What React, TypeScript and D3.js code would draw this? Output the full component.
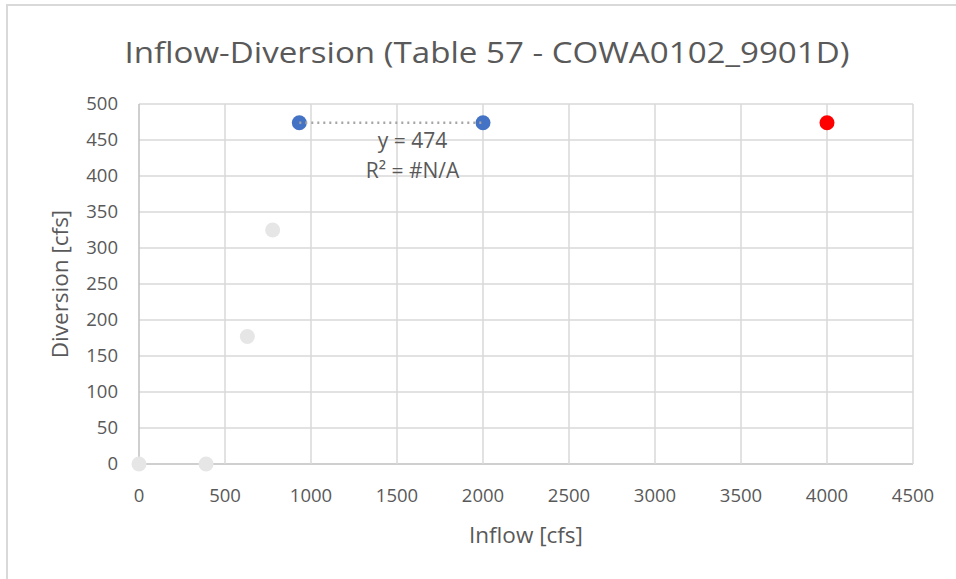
import * as d3 from "d3";
import React, { useEffect, useRef } from "react";

const title = "Inflow-Diversion (Table 57 - COWA0102_9901D)";
const xTitle = "Inflow [cfs]";
const yTitle = "Diversion [cfs]";

// inactive points (light gray)
const grayInflow = [0, 390, 630, 777];
const grayDiversion = [0, 0, 177, 325];
// fitted points (blue) with linear trendline
const blueInflow = [932, 2000];
const blueDiversion = [474, 474];
// highlighted point (red)
const redInflow = [4000];
const redDiversion = [474];

const trendLabel = ["y = 474", "R² = #N/A"];
const xTicks = d3.range(0, 4501, 500);
const yTicks = d3.range(0, 501, 50);

const W = 956;
const H = 579;
const FONT = "'Open Sans', 'Noto Sans', sans-serif";
const TEXT = "#595959";
const GRID = "#d9d9d9";

const App: React.FC = () => {
  const ref = useRef<SVGSVGElement>(null);

  useEffect(() => {
    const svg = d3.select(ref.current);
    svg.selectAll("*").remove();

    const x = d3.scaleLinear().domain([0, 4500]).range([139, 913]);
    const y = d3.scaleLinear().domain([0, 500]).range([464, 104]);

    // chart frame
    svg
      .append("rect")
      .attr("x", 7)
      .attr("y", 5)
      .attr("width", W + 20)
      .attr("height", H + 20)
      .attr("fill", "#fff")
      .attr("stroke", GRID)
      .attr("stroke-width", 2);

    svg
      .append("text")
      .attr("x", 487)
      .attr("y", 63)
      .attr("text-anchor", "middle")
      .attr("font-family", FONT)
      .attr("font-size", 29)
      .attr("textLength", 725)
      .attr("lengthAdjust", "spacingAndGlyphs")
      .attr("fill", TEXT)
      .text(title);

    const grid = svg.append("g");
    grid
      .selectAll("line.h")
      .data(yTicks)
      .join("line")
      .attr("class", "h")
      .attr("x1", x(0))
      .attr("x2", x(4500))
      .attr("y1", (d) => y(d))
      .attr("y2", (d) => y(d))
      .attr("stroke", (d) => (d === 0 ? "#bfbfbf" : GRID))
      .attr("stroke-width", 1.5);
    grid
      .selectAll("line.v")
      .data(xTicks)
      .join("line")
      .attr("class", "v")
      .attr("y1", y(0))
      .attr("y2", y(500))
      .attr("x1", (d) => x(d))
      .attr("x2", (d) => x(d))
      .attr("stroke", (d) => (d === 0 ? "#bfbfbf" : GRID))
      .attr("stroke-width", 1.5);

    svg
      .append("g")
      .selectAll("text")
      .data(yTicks)
      .join("text")
      .attr("x", 118)
      .attr("y", (d) => y(d))
      .attr("dy", "0.35em")
      .attr("text-anchor", "end")
      .attr("font-family", FONT)
      .attr("font-size", 18.5)
      .attr("fill", TEXT)
      .text((d) => d);

    svg
      .append("g")
      .selectAll("text")
      .data(xTicks)
      .join("text")
      .attr("x", (d) => x(d))
      .attr("y", 502)
      .attr("text-anchor", "middle")
      .attr("font-family", FONT)
      .attr("font-size", 18.5)
      .attr("fill", TEXT)
      .text((d) => d);

    svg
      .append("text")
      .attr("x", (x(0) + x(4500)) / 2)
      .attr("y", 543)
      .attr("text-anchor", "middle")
      .attr("font-family", FONT)
      .attr("font-size", 22.5)
      .attr("fill", TEXT)
      .text(xTitle);

    svg
      .append("text")
      .attr("transform", `translate(68, ${(y(0) + y(500)) / 2}) rotate(-90)`)
      .attr("text-anchor", "middle")
      .attr("font-family", FONT)
      .attr("font-size", 22.5)
      .attr("fill", TEXT)
      .text(yTitle);

    const dot = (xs: number[], ys: number[], color: string) =>
      svg
        .append("g")
        .selectAll("circle")
        .data(xs.map((v, i) => [v, ys[i]]))
        .join("circle")
        .attr("cx", (d) => x(d[0]))
        .attr("cy", (d) => y(d[1]))
        .attr("r", 7.5)
        .attr("fill", color);

    dot(grayInflow, grayDiversion, "#e6e6e6");
    dot(blueInflow, blueDiversion, "#4472c4");
    dot(redInflow, redDiversion, "#ff0000");

    // linear trendline through the blue points
    const mean = d3.mean(blueDiversion) as number;
    const [tx0, tx1] = d3.extent(blueInflow) as [number, number];
    svg
      .append("line")
      .attr("x1", x(tx0))
      .attr("x2", x(tx1))
      .attr("y1", y(mean))
      .attr("y2", y(mean))
      .attr("stroke", "#a6a6a6")
      .attr("stroke-width", 2.5)
      .attr("stroke-dasharray", "2 4");

    svg
      .append("g")
      .selectAll("text")
      .data(trendLabel)
      .join("text")
      .attr("x", x(1590))
      .attr("y", (_, i) => y(449 - i * 41))
      .attr("dy", "0.35em")
      .attr("text-anchor", "middle")
      .attr("font-family", FONT)
      .attr("font-size", 21)
      .attr("fill", TEXT)
      .text((d) => d);
  }, []);

  return (
    <svg
      ref={ref}
      width={W}
      height={H}
      style={{ position: "absolute", left: 0, top: 0, background: "#fff" }}
    />
  );
};

export default App;
